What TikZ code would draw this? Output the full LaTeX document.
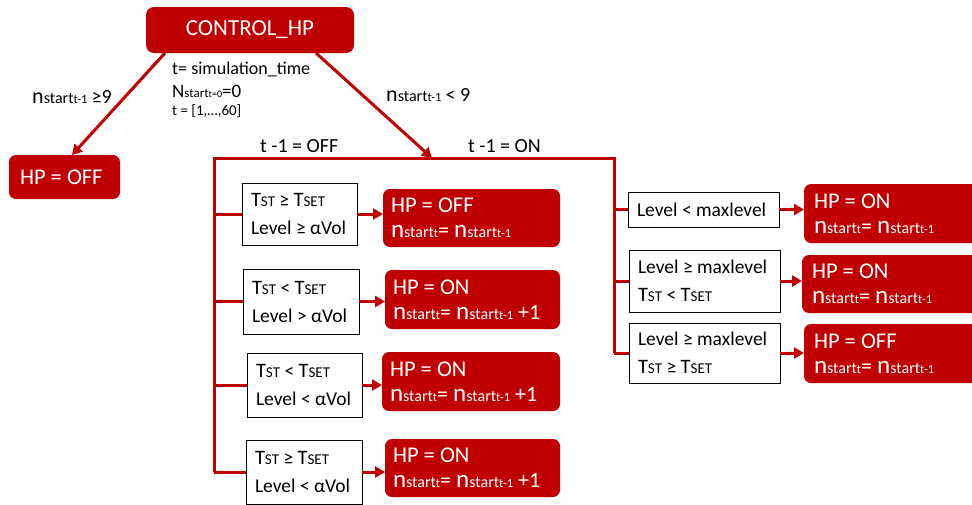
\documentclass[tikz,border=0pt]{standalone}
\usepackage{fontspec}
\setmainfont{Carlito}
\usetikzlibrary{arrows.meta}
\definecolor{hpred}{HTML}{C00000}
% text at a given size
\newcommand\fs[2]{{\fontsize{#1}{#1}\selectfont #2}}
% counter of starts: large n, small "start", smaller index
\newcommand\nst[2][25]{\fs{#1}{n}\fs{16}{start}\fs{12.5}{#2}}
% temperature with small-cap style index
\newcommand\tsub[1]{\fs{20.5}{T}\fs{15}{#1}}
\tikzset{
  redbox/.style={fill=hpred, rounded corners=7pt, text=white, inner xsep=8pt,
    inner ysep=0pt, outer sep=0pt, anchor=north west, align=flush left,
    font=\fontsize{22.5}{25}\selectfont},
  condbox/.style={draw=black, line width=0.9pt, fill=white, inner xsep=9pt,
    inner ysep=0pt, outer sep=0pt, anchor=north west, align=flush left,
    font=\fontsize{19.5}{28}\selectfont},
  wire/.style={draw=hpred, line width=3pt},
  flow/.style={wire, -{Triangle[length=10pt,width=11pt]}},
  lbl/.style={anchor=base west, inner sep=0pt, font=\fontsize{18}{18}\selectfont},
}
\begin{document}
\begin{tikzpicture}[x=1pt,y=-1pt]
\clip (0,0) rectangle (972,504);
\useasboundingbox (0,0) rectangle (972,504);

% top block and the first split
\node[redbox, align=center, minimum width=208pt, minimum height=46pt, rounded corners=8pt,
  font=\fontsize{23}{23}\selectfont] (ctrl) at (146,7) {CONTROL\_HP};
\node[redbox, minimum width=111pt, minimum height=44pt, inner xsep=11pt, text width=89pt]
  (hpoff) at (9,155) {HP = OFF};

\node[lbl] (tsim) at (172,74) {t= simulation\_time};
\node[lbl] (nzero) at (172,97) {\fs{19}{N}\fs{13}{start}\fs{10}{t=0}\fs{19}{=0}};
\node[lbl, font=\fontsize{15}{15}\selectfont] (trange) at (172,115) {t = [1,…,60]};

\node[lbl] (cgt) at (32,103) {\nst[22]{t-1} \fs{20}{≥9}};
\node[lbl] (clt) at (386,101) {\nst[22]{t-1} \fs{20}{< 9}};

\coordinate (ctrlL) at (165,53);
\coordinate (ctrlR) at (316,53);
\coordinate (busL) at (214,158);
\coordinate (busR) at (614,158);
\coordinate (hit) at (432,158);

\draw[flow] (ctrlL) -- (72,155);
\draw[flow] (ctrlR) -- (hit);

\node[lbl, font=\fontsize{20}{20}\selectfont] (toff) at (260,152) {t -1 = OFF};
\node[lbl, font=\fontsize{20}{20}\selectfont] (ton) at (468,152) {t -1 = ON};

% branch: heat pump was off
\node[condbox, minimum width=115pt, minimum height=62pt, text width=97pt] (c1) at (242,183)
  {\tsub{ST} ≥ \tsub{SET}\\Level ≥ αVol};
\node[condbox, minimum width=116pt, minimum height=65pt, text width=98pt] (c2) at (243,269)
  {\tsub{ST} < \tsub{SET}\\Level > αVol};
\node[condbox, minimum width=115pt, minimum height=64pt, text width=97pt] (c3) at (247,353)
  {\tsub{ST} < \tsub{SET}\\Level < αVol};
\node[condbox, minimum width=116pt, minimum height=64pt, text width=98pt] (c4) at (246,440)
  {\tsub{ST} ≥ \tsub{SET}\\Level < αVol};

\node[redbox, minimum width=177pt, minimum height=58pt, text width=161pt] (r1) at (383,189)
  {HP = OFF\\\nst{t}\fs{22}{=} \nst{t-1}};
\node[redbox, minimum width=175pt, minimum height=59pt, text width=159pt] (r2) at (385,270)
  {HP = ON\\\nst{t}\fs{22}{=} \nst{t-1} \fs{22}{+1}};
\node[redbox, minimum width=178pt, minimum height=59pt, text width=162pt] (r3) at (382,352)
  {HP = ON\\\nst{t}\fs{22}{=} \nst{t-1} \fs{22}{+1}};
\node[redbox, minimum width=175pt, minimum height=58pt, text width=159pt] (r4) at (385,439)
  {HP = ON\\\nst{t}\fs{22}{=} \nst{t-1} \fs{22}{+1}};

% branch: heat pump was on
\node[condbox, minimum width=151pt, minimum height=35pt, text width=133pt] (d1) at (628,192)
  {Level < maxlevel};
\node[condbox, minimum width=151pt, minimum height=62pt, text width=133pt] (d2) at (629,250)
  {Level ≥ maxlevel\\\tsub{ST} < \tsub{SET}};
\node[condbox, minimum width=151pt, minimum height=60pt, text width=133pt] (d3) at (629,323)
  {Level ≥ maxlevel\\\tsub{ST} ≥ \tsub{SET}};

\node[redbox, minimum width=190pt, minimum height=59pt, text width=172pt, inner xsep=10pt] (s1) at (804,184)
  {HP = ON\\\nst{t}\fs{22}{=} \nst{t-1}};
\node[redbox, minimum width=190pt, minimum height=58pt, text width=172pt, inner xsep=10pt] (s2) at (802,255)
  {HP = ON\\\nst{t}\fs{22}{=} \nst{t-1}};
\node[redbox, minimum width=190pt, minimum height=59pt, text width=172pt, inner xsep=10pt] (s3) at (804,324)
  {HP = OFF\\\nst{t}\fs{22}{=} \nst{t-1}};

% bus lines
\draw[wire] (c4.west -| busL) -- (busL) -- (busR) -- (d3.west -| busR);
\foreach \c in {c1,c2,c3,c4} \draw[wire] (\c.west -| busL) -- (\c.west);
\foreach \c in {d1,d2,d3} \draw[wire] (\c.west -| busR) -- (\c.west);

% outcome arrows
\draw[flow] (c1.east) -- (c1.east -| r1.west);
\draw[flow] (c2.east) -- (c2.east -| r2.west);
\draw[flow] (c3.east) -- (c3.east -| r3.west);
\draw[flow] (c4.east) -- (c4.east -| r4.west);
\draw[flow] (d1.east) -- (d1.east -| s1.west);
\draw[flow] (d2.east) -- (d2.east -| s2.west);
\draw[flow] (d3.east) -- (d3.east -| s3.west);
\end{tikzpicture}
\end{document}
